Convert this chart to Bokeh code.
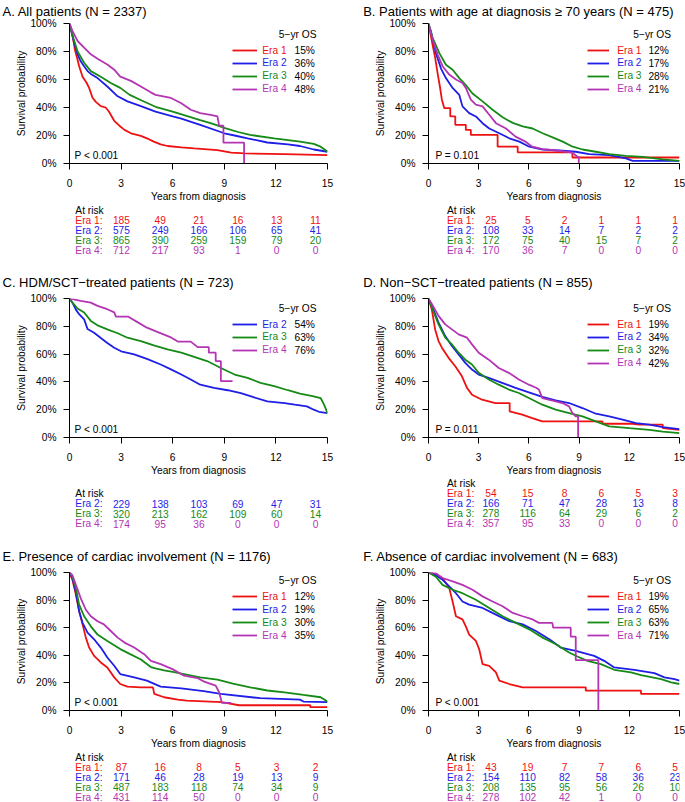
from bokeh.plotting import figure
from bokeh.models import (Range1d, FixedTicker, Label, Legend, LegendItem,
                          ColumnDataSource, CustomJSTickFormatter)
from bokeh.layouts import column, row
from bokeh.embed import file_html
from bokeh.resources import INLINE
from bokeh.core.properties import value

FONT = "Liberation Sans"
ERA_COLOR = {"Era 1": "#ee1111", "Era 2": "#1e1ee6", "Era 3": "#168a16", "Era 4": "#b335b3"}

YEAR_TICKS = [0, 3, 6, 9, 12, 15]
PCT_TICKS = [0, 20, 40, 60, 80, 100]
RISK_TIMES = [0, 3, 6, 9, 12, 15]
X_LABEL = "Years from diagnosis"
Y_LABEL = "Survival probability"
OS_HEADER = "5\u2212yr OS"

# ---------------- Panel A ----------------
A_title = "A. All patients (N = 2337)"
A_pval = "P < 0.001"
A_eras = ["Era 1", "Era 2", "Era 3", "Era 4"]
A_os5 = ["15%", "36%", "40%", "48%"]
A_era1_t = [0, 0.1, 0.2, 0.31, 0.45, 0.56, 0.76, 1.0, 1.14, 1.34, 1.53, 1.82, 2.1, 2.3, 2.6, 2.9, 3.2, 3.57, 4.15, 4.5, 4.9, 5.3, 5.7, 6.5, 7.25, 8.6, 9.4, 10.2, 12.5, 15]
A_era1_s = [100, 96, 90, 81.5, 75, 69.5, 62, 57.5, 54, 47, 44, 41, 40, 37, 30.5, 27, 24, 21.6, 19.7, 18, 15.6, 13.7, 12.5, 11.5, 10.8, 9.6, 7.7, 7.2, 6.7, 6]
A_era2_t = [0, 0.17, 0.3, 0.47, 0.65, 0.85, 1.05, 1.24, 1.63, 2.2, 2.8, 3.37, 4.15, 5.0, 6.0, 6.5, 7.6, 9.0, 9.6, 10.35, 11.5, 12.7, 13.4, 14.2, 15]
A_era2_s = [100, 91, 85, 78, 73, 69.5, 66, 64, 61, 55, 48, 44.4, 41, 37, 33.6, 32, 27.6, 21.6, 20, 18, 15, 13.7, 12.5, 10, 8.4]
A_era3_t = [0, 0.17, 0.47, 0.85, 1.24, 1.82, 2.4, 2.95, 3.5, 4.2, 5.0, 6.0, 6.8, 7.6, 8.3, 9.0, 9.8, 10.5, 11.9, 13.4, 14.2, 14.6, 15]
A_era3_s = [100, 91.6, 80, 72, 66, 62, 57.5, 54, 49, 45, 40.5, 37, 34, 31, 28.5, 25.5, 22.5, 20.4, 18, 15.6, 14, 12, 8.6]
A_era4_t = [0, 0.17, 0.47, 0.85, 1.24, 1.63, 2.2, 2.6, 2.95, 3.57, 4.15, 4.7, 5.0, 5.9, 6.5, 7.05, 7.6, 8.2, 8.6, 8.7, 8.95, 8.95, 10.15, 10.15]
A_era4_s = [100, 94.7, 87.5, 82.7, 78, 74.8, 70.7, 67, 62, 59, 55, 51, 49, 46.8, 43, 38.4, 36, 34.8, 33.6, 27, 27, 14.9, 14.9, 0]
A_risk_era1 = [185, 49, 21, 16, 13, 11]
A_risk_era2 = [575, 249, 166, 106, 65, 41]
A_risk_era3 = [865, 390, 259, 159, 79, 20]
A_risk_era4 = [712, 217, 93, 1, 0, 0]

# ---------------- Panel B ----------------
B_title = "B. Patients with age at diagnosis \u2265 70 years (N = 475)"
B_pval = "P = 0.101"
B_eras = ["Era 1", "Era 2", "Era 3", "Era 4"]
B_os5 = ["12%", "17%", "28%", "21%"]
B_era1_t = [0, 0.24, 0.4, 0.54, 0.68, 0.8, 0.94, 1.3, 1.3, 1.6, 1.6, 2.23, 2.23, 2.53, 2.53, 4.13, 4.13, 5.33, 5.33, 8.6, 8.6, 15]
B_era1_s = [100, 85, 75.5, 64.7, 55, 45.6, 39.6, 39.6, 33.6, 33.6, 27.6, 27.6, 24, 24, 20.4, 20.4, 12, 12, 8, 8, 4.3, 4.3]
B_era2_t = [0, 0.14, 0.44, 0.74, 1.04, 1.44, 1.84, 2.03, 2.43, 2.83, 3.23, 3.63, 4.23, 4.83, 5.43, 6.02, 6.82, 8.02, 8.8, 9.6, 10.8, 11.8, 12.2, 15]
B_era2_s = [100, 94.7, 79, 68, 61, 54, 49, 40.8, 36, 33.6, 28.8, 25, 21.6, 18, 15.6, 12, 10, 9.1, 8.4, 6.7, 6, 3.6, 1.9, 1.9]
B_era3_t = [0, 0.24, 0.64, 1.04, 1.44, 1.84, 2.23, 2.63, 3.23, 3.83, 4.43, 5.03, 5.63, 6.22, 6.82, 7.42, 8.02, 8.62, 9.2, 10.0, 10.8, 11.8, 12.8, 14.0, 15]
B_era3_s = [100, 90, 79, 70.5, 67, 61, 56, 50, 44.4, 38.4, 33, 29, 26.5, 25, 21.6, 18.7, 15.6, 12, 10, 8.4, 6.7, 5.5, 4.8, 2.9, 1.9]
B_era4_t = [0, 0.24, 0.54, 0.84, 1.24, 1.64, 2.03, 2.23, 2.53, 2.83, 3.23, 3.63, 4.03, 4.63, 5.2, 5.8, 6.2, 6.82, 7.8, 8.6, 8.9, 8.98, 8.98]
B_era4_s = [100, 88.7, 78, 69.5, 63.5, 60, 57.5, 54, 45.6, 42, 40.8, 34.8, 28.8, 25, 19.2, 15.6, 12, 10.3, 9.1, 7.7, 4.8, 4.8, 0]
B_risk_era1 = [25, 5, 2, 1, 1, 1]
B_risk_era2 = [108, 33, 14, 7, 2, 2]
B_risk_era3 = [172, 75, 40, 15, 7, 2]
B_risk_era4 = [170, 36, 7, 0, 0, 0]

# ---------------- Panel C ----------------
C_title = "C. HDM/SCT\u2212treated patients (N = 723)"
C_pval = "P < 0.001"
C_eras = ["Era 2", "Era 3", "Era 4"]
C_os5 = ["54%", "63%", "76%"]
C_era2_t = [0, 0.17, 0.37, 0.56, 0.85, 1.05, 1.43, 1.82, 2.2, 2.6, 3.0, 3.76, 4.5, 5.3, 5.9, 6.5, 7.05, 7.6, 8.4, 9.2, 9.96, 10.7, 11.5, 12.5, 13.1, 13.8, 14.2, 14.5, 15]
C_era2_s = [100, 97, 92, 88.7, 85, 78, 75.4, 71.6, 68, 64.6, 62, 59.8, 56.6, 52.5, 49, 45.3, 41.7, 38, 35.7, 34, 32, 29, 26, 24.8, 23.6, 22.4, 20, 18.5, 17.6]
C_era3_t = [0, 0.17, 0.47, 0.85, 1.24, 1.63, 2.2, 2.8, 3.37, 4.15, 4.9, 5.7, 6.5, 7.25, 8.0, 8.8, 9.6, 10.35, 11.1, 11.9, 12.7, 13.4, 14.2, 14.6, 14.8, 15]
C_era3_s = [100, 97, 92.8, 89.9, 83.9, 80.7, 77.8, 75, 71.8, 69.4, 66.3, 63.4, 61, 58, 55, 50, 45.3, 42.9, 39.3, 36.9, 34, 31.6, 29.6, 28.4, 23.6, 17.6]
C_era4_t = [0, 0.17, 0.65, 1.24, 1.63, 2.2, 2.6, 2.7, 3.4, 3.95, 4.5, 5.1, 5.5, 5.9, 6.3, 7.05, 7.45, 8.1, 8.1, 8.5, 8.5, 8.8, 8.8, 9.48]
C_era4_s = [100, 99.5, 98.3, 97, 94.7, 92.3, 90, 87, 87, 83, 79, 76, 74, 72, 69, 69, 65, 65, 61, 61, 55, 55, 40.5, 40.5]
C_risk_era2 = [229, 138, 103, 69, 47, 31]
C_risk_era3 = [320, 213, 162, 109, 60, 14]
C_risk_era4 = [174, 95, 36, 0, 0, 0]

# ---------------- Panel D ----------------
D_title = "D. Non\u2212SCT\u2212treated patients (N = 855)"
D_pval = "P = 0.011"
D_eras = ["Era 1", "Era 2", "Era 3", "Era 4"]
D_os5 = ["19%", "34%", "32%", "42%"]
D_era1_t = [0, 0.2, 0.4, 0.6, 0.8, 1.2, 1.6, 2.0, 2.3, 2.6, 3.2, 4.0, 4.85, 4.85, 5.6, 6.2, 6.8, 10.4, 10.4, 12.2, 12.6, 14.0, 14.0, 15]
D_era1_s = [100, 92, 77.6, 69.4, 64.6, 57.3, 51.3, 44, 35.7, 30.8, 27.2, 24.8, 24.8, 18.8, 16.4, 14, 11.6, 11.6, 9.9, 9.9, 9.2, 9.2, 6.7, 5.5]
D_era2_t = [0, 0.2, 0.6, 1.0, 1.4, 1.8, 2.2, 2.6, 3.0, 3.6, 4.4, 5.2, 6.0, 6.8, 7.6, 8.4, 9.2, 10.0, 10.8, 11.6, 12.4, 13.2, 14.0, 15]
D_era2_s = [100, 94.7, 82.6, 73, 65.8, 59.8, 53.7, 48.9, 45.3, 42.9, 39.3, 35.7, 32.5, 29.2, 26.7, 24.8, 21.2, 17.1, 15.2, 12.8, 10.4, 9.2, 7.5, 6]
D_era3_t = [0, 0.2, 0.6, 1.0, 1.4, 1.8, 2.2, 2.6, 3.0, 3.6, 4.2, 4.8, 5.4, 6.0, 6.8, 7.6, 8.4, 9.2, 10.0, 10.8, 12.0, 13.2, 14.0, 15]
D_era3_s = [100, 93.5, 81.4, 71.8, 67, 61, 56, 52.5, 46.5, 41.7, 38, 34.5, 32, 28.4, 23.6, 20, 17.6, 15.2, 11.6, 8, 6.7, 5.5, 4.3, 3.1]
D_era4_t = [0, 0.2, 0.6, 1.0, 1.4, 1.8, 2.3, 2.6, 3.0, 3.6, 4.2, 4.8, 5.4, 6.0, 6.4, 6.6, 6.8, 7.6, 8.0, 8.4, 8.6, 8.8, 8.94, 8.94]
D_era4_s = [100, 96, 87.5, 81.4, 77.8, 74.2, 71.8, 67, 61, 56, 50, 46.5, 41.7, 38, 36, 34.5, 28.4, 26, 24.8, 22.4, 17.6, 15.2, 15.2, 0]
D_risk_era1 = [54, 15, 8, 6, 5, 3]
D_risk_era2 = [166, 71, 47, 28, 13, 8]
D_risk_era3 = [278, 116, 64, 29, 6, 2]
D_risk_era4 = [357, 95, 33, 0, 0, 0]

# ---------------- Panel E ----------------
E_title = "E. Presence of cardiac involvement (N = 1176)"
E_pval = "P < 0.001"
E_eras = ["Era 1", "Era 2", "Era 3", "Era 4"]
E_os5 = ["12%", "19%", "30%", "35%"]
E_era1_t = [0, 0.17, 0.37, 0.56, 0.76, 0.95, 1.14, 1.43, 1.82, 2.2, 2.6, 2.95, 3.37, 4.15, 4.85, 4.93, 5.5, 6.3, 6.8, 8.85, 9.86, 14.0, 14.0, 15]
E_era1_s = [100, 94.7, 84, 72, 62.4, 52.8, 45.6, 39.6, 34.8, 31.2, 24, 19.2, 17.3, 16.8, 16.8, 12, 9.6, 7.9, 7.2, 6, 3.8, 3.8, 2.4, 2.4]
E_era2_t = [0, 0.17, 0.37, 0.56, 0.76, 1.05, 1.43, 1.82, 2.2, 2.6, 2.95, 3.76, 4.5, 4.73, 5.3, 6.5, 7.8, 8.8, 11.1, 13.4, 13.6, 15]
E_era2_s = [100, 96, 86, 72, 63.5, 56.4, 51.6, 45.6, 38.4, 32.4, 26.4, 24, 21.6, 20.4, 17.3, 16.1, 14, 12, 8.9, 7.9, 6.5, 6]
E_era3_t = [0, 0.17, 0.37, 0.56, 0.85, 1.24, 1.63, 2.2, 2.95, 3.5, 4.15, 4.73, 5.0, 5.5, 6.0, 6.66, 7.6, 8.6, 9.5, 10.5, 11.5, 12.5, 13.6, 14.6, 15]
E_era3_s = [100, 97, 88.7, 76.7, 68.3, 61, 55, 50.4, 44.5, 41, 37, 31.5, 30.5, 29, 28, 26.4, 24, 22.3, 19.5, 16.8, 14.5, 13.2, 11.3, 9.6, 6.5]
E_era4_t = [0, 0.17, 0.37, 0.65, 0.95, 1.24, 1.63, 2.0, 2.4, 2.8, 3.2, 3.76, 4.34, 4.73, 5.3, 5.99, 6.66, 7.44, 7.83, 8.5, 8.7, 8.8, 8.85, 9.4]
E_era4_s = [100, 98, 91, 81.5, 73, 68.3, 64.7, 62.4, 57.6, 52.8, 49.2, 45.6, 40.8, 36, 33.6, 30, 25.2, 23.5, 20.9, 18, 13.2, 8.4, 5.5, 5.5]
E_risk_era1 = [87, 16, 8, 5, 3, 2]
E_risk_era2 = [171, 46, 28, 19, 13, 9]
E_risk_era3 = [487, 183, 118, 74, 34, 9]
E_risk_era4 = [431, 114, 50, 0, 0, 0]

# ---------------- Panel F ----------------
F_title = "F. Absence of cardiac involvement (N = 683)"
F_pval = "P < 0.001"
F_eras = ["Era 1", "Era 2", "Era 3", "Era 4"]
F_os5 = ["19%", "65%", "63%", "71%"]
F_era1_t = [0, 0.24, 0.84, 1.24, 1.44, 1.64, 2.03, 2.23, 2.43, 2.83, 3.03, 3.23, 3.63, 4.03, 4.23, 4.83, 5.63, 9.4, 9.4, 12.7, 12.7, 15]
F_era1_s = [100, 99.5, 96, 88.7, 79, 68.3, 66, 61, 55, 50.4, 44.4, 33.6, 32.4, 27.6, 21.6, 19.2, 16.8, 16.8, 14.4, 14.4, 12, 12]
F_era2_t = [0, 0.44, 0.84, 1.24, 1.64, 2.03, 2.43, 3.23, 4.03, 4.83, 5.63, 6.42, 7.22, 7.9, 8.8, 9.9, 10.5, 11.1, 12.3, 13.5, 14.1, 14.7, 15]
F_era2_s = [100, 98, 94.7, 90, 85, 79, 76.7, 74.3, 69.5, 64.7, 62.4, 57.6, 51.6, 45.6, 43.2, 39.6, 36, 31.2, 29.5, 27.1, 24, 22.8, 21.6]
F_era3_t = [0, 0.44, 0.84, 1.44, 2.03, 2.83, 3.63, 4.43, 5.23, 6.02, 6.82, 7.62, 8.4, 8.9, 9.5, 10.3, 11.1, 12.1, 12.7, 13.9, 14.5, 15]
F_era3_s = [100, 96.9, 91, 87.5, 85, 80.3, 74.3, 68.3, 63.5, 58.8, 52.8, 48, 42, 39.1, 36, 33.6, 29.5, 27.6, 25.7, 22.8, 20.4, 19.2]
F_era4_t = [0, 0.44, 0.84, 1.44, 2.03, 2.63, 3.23, 3.83, 4.43, 5.03, 5.63, 6.22, 6.6, 7.4, 7.45, 8.5, 8.5, 8.8, 8.8, 10.15, 10.15]
F_era4_s = [100, 99.5, 96, 93.5, 91, 87.5, 82.7, 79, 75.5, 70.7, 68.3, 66, 63.5, 63.5, 60, 60, 53.5, 53.5, 36.5, 36.5, 0]
F_risk_era1 = [43, 19, 7, 7, 6, 5]
F_risk_era2 = [154, 110, 82, 58, 36, 23]
F_risk_era3 = [208, 135, 95, 56, 26, 10]
F_risk_era4 = [278, 102, 42, 1, 0, 0]

PANELS = {
    "A": dict(title=A_title, pval=A_pval, eras=A_eras, os5=A_os5,
              curves=[(A_era1_t, A_era1_s), (A_era2_t, A_era2_s), (A_era3_t, A_era3_s), (A_era4_t, A_era4_s)],
              risk=[A_risk_era1, A_risk_era2, A_risk_era3, A_risk_era4]),
    "B": dict(title=B_title, pval=B_pval, eras=B_eras, os5=B_os5,
              curves=[(B_era1_t, B_era1_s), (B_era2_t, B_era2_s), (B_era3_t, B_era3_s), (B_era4_t, B_era4_s)],
              risk=[B_risk_era1, B_risk_era2, B_risk_era3, B_risk_era4]),
    "C": dict(title=C_title, pval=C_pval, eras=C_eras, os5=C_os5,
              curves=[(C_era2_t, C_era2_s), (C_era3_t, C_era3_s), (C_era4_t, C_era4_s)],
              risk=[C_risk_era2, C_risk_era3, C_risk_era4]),
    "D": dict(title=D_title, pval=D_pval, eras=D_eras, os5=D_os5,
              curves=[(D_era1_t, D_era1_s), (D_era2_t, D_era2_s), (D_era3_t, D_era3_s), (D_era4_t, D_era4_s)],
              risk=[D_risk_era1, D_risk_era2, D_risk_era3, D_risk_era4]),
    "E": dict(title=E_title, pval=E_pval, eras=E_eras, os5=E_os5,
              curves=[(E_era1_t, E_era1_s), (E_era2_t, E_era2_s), (E_era3_t, E_era3_s), (E_era4_t, E_era4_s)],
              risk=[E_risk_era1, E_risk_era2, E_risk_era3, E_risk_era4]),
    "F": dict(title=F_title, pval=F_pval, eras=F_eras, os5=F_os5,
              curves=[(F_era1_t, F_era1_s), (F_era2_t, F_era2_s), (F_era3_t, F_era3_s), (F_era4_t, F_era4_s)],
              risk=[F_risk_era1, F_risk_era2, F_risk_era3, F_risk_era4]),
}

# ---------------- layout geometry (page pixels) ----------------
COLS = [(0, 343), (343, 342)]
ROWS = [(0, 204, 267), (267, 478, 541), (541, 751, 802)]
FRAME_X = [(68.7, 326.7), (428.2, 678.9)]
FRAME_Y = [(24.3, 163.3), (299.3, 437.7), (572.7, 711.7)]
TITLE_X = [2.0, 362.7]
LABEL_X = [7.8, 368.3]
YLAB_STANDOFF = [0, 0]
LEG = [dict(hdr=10.7, l0=94.4, l1=69.7, era=65.0, pct=32.7),
       dict(hdr=8.4, l0=91.7, l1=69.4, era=61.7, pct=31.0)]
P_OFF = [5.3, 6.7]
GEOM = {
    "A": dict(c=0, r=0, risk_y0=209.5, risk_dy=10),
    "B": dict(c=1, r=0, risk_y0=209.5, risk_dy=10),
    "C": dict(c=0, r=1, risk_y0=493, risk_dy=10.1),
    "D": dict(c=1, r=1, risk_y0=482.5, risk_dy=10),
    "E": dict(c=0, r=2, risk_y0=756.7, risk_dy=10),
    "F": dict(c=1, r=2, risk_y0=756.7, risk_dy=10),
}
SMALL = "10.2px"
TITLE_PX = 13
TITLE_BOX = 2 + 1.2 * TITLE_PX


def build(key):
    d = PANELS[key]
    g = GEOM[key]
    c, r = g["c"], g["r"]
    fig_left, fw = COLS[c]
    top_p, split_p, bot_p = ROWS[r]
    L, R = FRAME_X[c]
    T, B = FRAME_Y[r]
    fl, fr = round(L), round(R)
    ft, fb = round(T), round(B)
    km_h = split_p - top_p
    mbl = fl - fig_left
    mbr = fig_left + fw - fr
    mbb = split_p - fb

    p = figure(width=fw, height=km_h, x_range=Range1d(0, 15), y_range=Range1d(0, 100),
               output_backend="svg", toolbar_location=None, title=d["title"],
               min_border_left=mbl, min_border_right=mbr,
               min_border_top=0, min_border_bottom=mbb)
    p.title.align = "left"
    p.title.vertical_align = "top"
    p.title.offset = TITLE_X[c] - fl
    p.title.standoff = (ft - top_p) - TITLE_BOX
    p.title.text_font = FONT
    p.title.text_font_size = "%dpx" % TITLE_PX
    p.title.text_font_style = "normal"
    p.title.text_color = "black"
    p.outline_line_color = None
    p.xgrid.visible = False
    p.ygrid.visible = False
    p.background_fill_color = "white"
    p.border_fill_color = "white"

    p.xaxis.ticker = FixedTicker(ticks=YEAR_TICKS)
    p.yaxis.ticker = FixedTicker(ticks=PCT_TICKS)
    p.yaxis.formatter = CustomJSTickFormatter(code="return tick.toFixed(0) + '%';")
    p.xaxis.axis_label = X_LABEL
    p.yaxis.axis_label = Y_LABEL
    for ax in (p.xaxis[0], p.yaxis[0]):
        ax.major_tick_out = 6
        ax.major_tick_in = 0
        ax.minor_tick_out = 0
        ax.minor_tick_in = 0
        ax.axis_line_color = "black"
        ax.major_tick_line_color = "black"
        ax.major_label_text_font = FONT
        ax.major_label_text_font_size = SMALL
        ax.major_label_text_color = "black"
        ax.axis_label_text_font = FONT
        ax.axis_label_text_font_size = SMALL
        ax.axis_label_text_font_style = "normal"
        ax.axis_label_text_color = "black"
    p.xaxis.major_label_standoff = 9
    p.xaxis.axis_label_standoff = 1
    p.yaxis.major_label_standoff = 7
    p.yaxis.axis_label_standoff = YLAB_STANDOFF[c]

    lg = LEG[c]
    def sx(X):
        return X - fl
    def sy(Y):
        return fb - Y

    for j, (era, (t, s)) in enumerate(zip(d["eras"], d["curves"])):
        col = ERA_COLOR[era]
        rend = p.line(t, s, line_color=col, line_width=1.8)
        yc = sy(T + 25.7 + 12.9 * j)
        x1 = sx(R - lg["l0"])
        x2 = sx(R - lg["l1"])
        xe = sx(R - lg["era"])
        leg = Legend(items=[LegendItem(label=era, renderers=[rend])],
                     location=(x1, yc - 10), orientation="vertical",
                     glyph_width=round(x2 - x1), glyph_height=20, label_height=20,
                     label_width=10, label_standoff=round(xe - x2),
                     padding=0, margin=0, spacing=0,
                     border_line_color=None, background_fill_alpha=0,
                     label_text_font=FONT, label_text_font_size=SMALL,
                     label_text_color=col)
        p.add_layout(leg)
        p.add_layout(Label(x=sx(R - lg["pct"]), y=yc, x_units="screen", y_units="screen",
                           text=d["os5"][j], text_align="left", text_baseline="middle",
                           text_font=FONT, text_font_size=SMALL, text_color="black"))
    p.add_layout(Label(x=sx(R - lg["hdr"]), y=sy(T + 9.5), x_units="screen", y_units="screen",
                       text=OS_HEADER, text_align="right", text_baseline="middle",
                       text_font=FONT, text_font_size=SMALL, text_color="black"))
    p.add_layout(Label(x=sx(L + P_OFF[c]), y=sy(B - 8), x_units="screen", y_units="screen",
                       text=d["pval"], text_align="left", text_baseline="middle",
                       text_font=FONT, text_font_size=SMALL, text_color="black"))

    # ---- at-risk table, aligned with the survival plot's time scale ----
    rk_h = bot_p - split_p
    ppy = (fr - fl) / 15.0
    x0 = -(fl - fig_left) / ppy
    x1r = 15 + (fig_left + fw - fr) / ppy
    a = g["risk_y0"] - split_p
    b = g["risk_dy"]
    q = figure(width=fw, height=rk_h, x_range=Range1d(x0, x1r),
               y_range=Range1d(start=(rk_h - a) / b, end=-a / b),
               output_backend="svg", toolbar_location=None,
               x_axis_location=None, y_axis_location=None,
               min_border_left=0, min_border_right=0, min_border_top=0, min_border_bottom=0)
    q.outline_line_color = None
    q.xgrid.visible = False
    q.ygrid.visible = False
    q.background_fill_color = "white"
    q.border_fill_color = "white"

    xs, ys, txt, cols = [], [], [], []
    for k, (era, counts) in enumerate(zip(d["eras"], d["risk"])):
        for tt, n in zip(RISK_TIMES, counts):
            xs.append(tt)
            ys.append(k + 1)
            txt.append(str(n))
            cols.append(ERA_COLOR[era])
    q.text(x="x", y="y", text="text", text_color="color",
           source=ColumnDataSource(dict(x=xs, y=ys, text=txt, color=cols)),
           text_align="center", text_baseline="middle",
           text_font=value(FONT), text_font_size=value(SMALL))
    lx = (LABEL_X[c] - fl) / ppy
    n_e = len(d["eras"])
    q.text(x="x", y="y", text="text", text_color="color",
           source=ColumnDataSource(dict(
               x=[lx] * (n_e + 1), y=list(range(n_e + 1)),
               text=["At risk"] + [e + ":" for e in d["eras"]],
               color=["black"] + [ERA_COLOR[e] for e in d["eras"]])),
           text_align="left", text_baseline="middle",
           text_font=value(FONT), text_font_size=value(SMALL))
    return column(p, q, spacing=0)


layout = column(
    row(build("A"), build("B"), spacing=0),
    row(build("C"), build("D"), spacing=0),
    row(build("E"), build("F"), spacing=0),
    spacing=0,
)

open("out.html", "w").write(file_html(layout, INLINE, title="Survival by era"))
